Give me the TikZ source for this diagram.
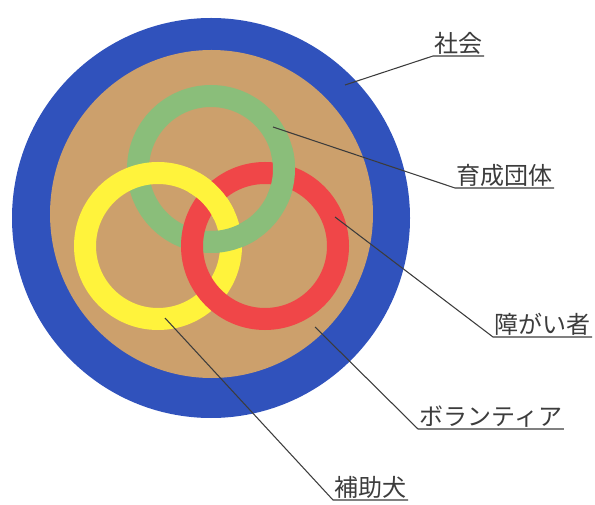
\documentclass[tikz,border=0pt]{standalone}
\usepackage{fontspec}
\newfontfamily\jpfont{Noto Sans CJK JP}
\definecolor{societyblue}{RGB}{48,82,188}
\definecolor{tanfill}{RGB}{204,160,108}
\definecolor{ringgreen}{RGB}{138,190,122}
\definecolor{ringyellow}{RGB}{255,243,60}
\definecolor{ringred}{RGB}{240,70,72}
\definecolor{inkgray}{RGB}{60,60,60}
\tikzset{
  ring/.style={line width=16.5pt},
  lbl/.style={inner xsep=1pt, inner ysep=1.2pt, text=inkgray, anchor=south west,
              font=\jpfont\fontsize{18}{20}\selectfont},
  conn/.style={draw=inkgray, line width=0.8pt}
}
\begin{document}
\begin{tikzpicture}[x=0.75pt,y=0.75pt]
\useasboundingbox (0,0) rectangle (595,-505);
% society and volunteer discs
\fill[societyblue] (211,-218) ellipse [x radius=149.25pt, y radius=150pt];
\fill[tanfill] (211.5,-214) ellipse [x radius=121.1pt, y radius=123pt];
% rings
\draw[ring, ringgreen] (211,-169) circle [radius=54.75pt];
\draw[ring, ringyellow] (158,-246) circle [radius=54.75pt];
\draw[ring, ringred] (265,-246) circle [radius=54.75pt];
% over-crossings
\draw[ring, ringyellow] (158,-246) ++(25:54.75pt) arc [start angle=25, end angle=61, radius=54.75pt];
\draw[ring, ringgreen] (211,-169) ++(-25:54.75pt) arc [start angle=-25, end angle=15, radius=54.75pt];
\draw[ring, ringgreen] (211,-169) ++(-91:54.75pt) arc [start angle=-91, end angle=-56, radius=54.75pt];
% labels
\node[lbl] (l1) at (433,-56) {社会};
\node[lbl] (l2) at (455,-188) {育成団体};
\node[lbl] (l3) at (493,-337) {障がい者};
\node[lbl] (l4) at (418,-429) {ボランティア};
\node[lbl] (l5) at (333,-500) {補助犬};
% leader points
\coordinate (p1) at (345,-85);
\coordinate (p2) at (273,-127);
\coordinate (p3) at (335,-217);
\coordinate (p4) at (315,-327);
\coordinate (p5) at (165,-318);
\draw[conn] (p1) -- (l1.south west) -- (l1.south east);
\draw[conn] (p2) -- (l2.south west) -- (l2.south east);
\draw[conn] (p3) -- (l3.south west) -- (l3.south east);
\draw[conn] (p4) -- (l4.south west) -- (l4.south east);
\draw[conn] (p5) -- (l5.south west) -- (l5.south east);
\end{tikzpicture}
\end{document}
